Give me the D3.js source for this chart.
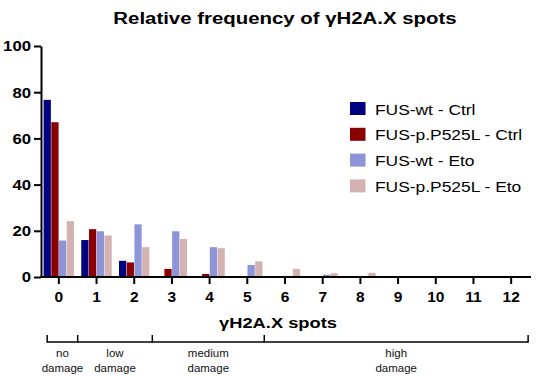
<!DOCTYPE html>
<html>
<head>
<meta charset="utf-8">
<script src="https://cdn.jsdelivr.net/npm/d3@7"></script>
<style>
    body { margin: 0; background: #fff; }
    text { font-family: Arial, "Liberation Sans", sans-serif; }
</style>
</head>
<body>
<div id="chart"></div>
<script>
// categories: number of γH2A.X spots per cell
var spots = ["0", "1", "2", "3", "4", "5", "6", "7", "8", "9", "10", "11", "12"];
var seriesNames = ["FUS-wt - Ctrl", "FUS-p.P525L - Ctrl", "FUS-wt - Eto", "FUS-p.P525L - Eto"];
var wtCtrl     = [76.7, 16, 7, 0, 0, 0, 0, 0, 0, 0, 0, 0, 0];
var mutCtrl    = [67, 20.7, 6.3, 3.5, 1.3, 0, 0, 0, 0, 0, 0, 0, 0];
var wtEto      = [15.8, 19.8, 22.8, 19.8, 12.9, 5.2, 0.3, 1.0, 0.3, 0, 0.3, 0, 0];
var mutEto     = [24.2, 18, 12.9, 16.5, 12.5, 6.8, 3.5, 1.6, 1.8, 0.3, 0, 0, 0];
var yTicks = [0, 20, 40, 60, 80, 100];
// damage classes, given as spans on the spots axis
var damageNames = [["no", "damage"], ["low", "damage"], ["medium", "damage"], ["high", "damage"]];
var damageEdges = [-0.31, 0.5, 2.48, 5.45, 12.45];

// the original font runs wider than Arial, so stretch some labels sideways
// around their own anchor x
function widen(sel, k) {
    sel.each(function() {
        var x0 = +d3.select(this).attr("x");
        d3.select(this).attr("transform", "translate(" + (x0 * (1 - k)) + ",0) scale(" + k + ",1)");
    });
}

function init() {
    var w = 536, h = 378;
    var colors = ["#000080", "#8b0000", "#8d95d8", "#d4b2b2"];
    var allSeries = [wtCtrl, mutCtrl, wtEto, mutEto];

    var svg = d3.select("#chart").append("svg")
        .attr("width", w)
        .attr("height", h);

    var xScale = d3.scaleBand().domain(spots).range([40, 530]);
    var yScale = d3.scaleLinear().domain([0, 100]).range([277, 46]);
    // position inside one category
    var x1 = d3.scaleBand().domain(d3.range(4)).range([3.6, 34]).paddingInner(0.06);
    // linear helper for the damage bracket
    var spotPos = d3.scaleLinear().domain([0, 12])
        .range([xScale("0") + xScale.bandwidth() / 2, xScale("12") + xScale.bandwidth() / 2]);

    // title
    svg.append("text")
        .attr("x", 285)
        .attr("y", 24.5)
        .attr("text-anchor", "middle")
        .style("font-size", "17px")
        .style("font-weight", "bold")
        .text("Relative frequency of γH2A.X spots")
        .call(widen, 1.2);

    // bars
    allSeries.forEach(function(vals, s) {
        svg.append("g").selectAll("rect")
            .data(vals)
            .enter().append("rect")
            .attr("x", function(d, i) { return xScale(spots[i]) + x1(s); })
            .attr("width", x1.bandwidth())
            .attr("y", function(d) { return yScale(d); })
            .attr("height", function(d) { return yScale(0) - yScale(d); })
            .attr("fill", colors[s]);
    });

    // axes
    var yAxis = d3.axisLeft(yScale).tickValues(yTicks).tickSize(7).tickSizeOuter(0);
    var gy = svg.append("g")
        .attr("transform", "translate(41,0)")
        .call(yAxis);
    gy.select(".domain").attr("stroke-width", 2);
    gy.selectAll(".tick line").attr("stroke-width", 2);
    gy.selectAll(".tick text")
        .attr("x", -10)
        .style("font-size", "15.5px")
        .style("font-weight", "bold")
        .attr("fill", "#000")
        .call(widen, 1.08);

    var xAxis = d3.axisBottom(xScale).tickSize(7).tickSizeOuter(0);
    var gx = svg.append("g")
        .attr("transform", "translate(0,277)")
        .call(xAxis);
    gx.select(".domain").attr("stroke-width", 2).attr("d", "M40,0H531");
    gx.selectAll(".tick line").attr("stroke-width", 2);
    gx.selectAll(".tick text")
        .attr("y", 14)
        .style("font-size", "15.5px")
        .style("font-weight", "bold")
        .attr("fill", "#000");

    svg.append("text")
        .attr("x", 278)
        .attr("y", 328.5)
        .attr("text-anchor", "middle")
        .style("font-size", "15.5px")
        .style("font-weight", "bold")
        .text("γH2A.X spots")
        .call(widen, 1.18);

    // damage bracket
    var by = 342;
    svg.append("line")
        .attr("x1", spotPos(damageEdges[0])).attr("x2", spotPos(damageEdges[damageEdges.length - 1]))
        .attr("y1", by).attr("y2", by)
        .attr("stroke", "#000").attr("stroke-width", 1.5);
    svg.selectAll(".bracketTick")
        .data(damageEdges)
        .enter().append("line")
        .attr("x1", function(d) { return spotPos(d); })
        .attr("x2", function(d) { return spotPos(d); })
        .attr("y1", by - 7).attr("y2", by + 0.75)
        .attr("stroke", "#000").attr("stroke-width", 1.5);
    damageNames.forEach(function(lines, i) {
        var cx = (spotPos(damageEdges[i]) + spotPos(damageEdges[i + 1])) / 2;
        var t = svg.append("text")
            .attr("text-anchor", "middle")
            .style("font-size", "11.5px")
            .attr("fill", "#111");
        lines.forEach(function(l, j) {
            t.append("tspan").attr("x", cx).attr("y", 357 + j * 14.5).text(l);
        });
    });

    // legend
    var legend = svg.append("g").attr("transform", "translate(350,102)");
    seriesNames.forEach(function(name, i) {
        legend.append("rect")
            .attr("x", 0).attr("y", i * 25.8)
            .attr("width", 15.5).attr("height", 13)
            .attr("fill", colors[i]);
        legend.append("text")
            .attr("x", 25).attr("y", i * 25.8 + 12.5)
            .style("font-size", "15px")
            .attr("fill", "#000")
            .text(name)
            .call(widen, 1.16);
    });
}

window.onload = init;
</script>
</body>
</html>
